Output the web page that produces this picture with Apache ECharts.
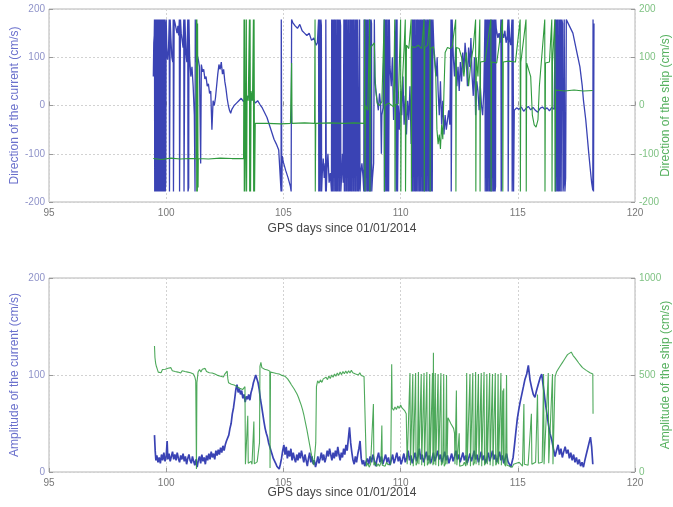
<!DOCTYPE html>
<html>
<head>
<meta charset="utf-8">
<script src="https://cdn.jsdelivr.net/npm/echarts@6/dist/echarts.min.js"></script>
<style>html,body{margin:0;padding:0;background:#fff}#c{width:673px;height:507px}</style>
</head>
<body>
<div id="c"></div>
<script>
// ---------- DATA ----------
const xTicks = [95, 100, 105, 110, 115, 120];
const xName = 'GPS days since 01/01/2014';
const topLeftName = 'Direction of the current (cm/s)';
const topRightName = 'Direction of the ship (cm/s)';
const botLeftName = 'Amplitude of the current (cm/s)';
const botRightName = 'Amplitude of the ship (cm/s)';

// [day, direction] of the current (wraps at +/-180)
const currentDirection = [
[99.45,60],[99.47,130],[99.49,145],[99.50,178],[99.51,-178],[99.52,-150],[99.53,178],[99.54,120],[99.55,178],[99.56,-178],[99.57,-175],[99.58,178],[99.59,160],[99.60,178],[99.61,-178],[99.62,-165],[99.63,178],[99.64,170],[99.65,178],[99.66,-178],[99.67,-172],[99.68,178],[99.69,150],[99.70,178],[99.71,-178],[99.72,-178],[99.73,178],[99.74,175],[99.75,178],[99.76,-178],[99.77,-168],[99.78,178],[99.80,176],[99.81,-178],[99.82,-170],[99.83,178],[99.85,172],[99.86,-178],[99.87,-176],[99.88,178],[99.90,165],[99.91,-178],[99.92,-174],[99.93,178],[99.95,170],[99.96,-178],[99.98,-160],
[100.00,178],[100.03,110],[100.06,95],[100.10,120],[100.13,178],[100.14,-178],[100.16,-178],[100.17,178],[100.20,140],[100.24,100],[100.28,90],[100.30,178],[100.31,-178],[100.33,-178],[100.34,178],[100.38,170],[100.42,160],[100.46,150],[100.50,165],[100.53,145],[100.56,178],[100.57,-178],[100.60,-176],[100.61,178],[100.64,150],[100.68,135],[100.72,120],[100.75,178],[100.76,-178],[100.79,-175],[100.80,178],[100.84,110],[100.88,90],[100.92,178],[100.93,-178],[100.96,-170],[100.97,178],[101.00,100],[101.05,60],[101.10,80],[101.15,40],[101.20,-20],[101.23,-178],[101.24,178],[101.27,90],[101.32,105],[101.37,95],[101.42,80],[101.47,-120],[101.50,85],[101.55,70],[101.60,75],[101.65,55],[101.70,60],[101.75,40],[101.80,45],[101.85,25],[101.90,30],[101.95,-50],[102.00,10],[102.05,0],[102.10,15],[102.15,40],[102.20,65],[102.25,85],[102.30,75],[102.35,90],[102.40,65],[102.45,75],[102.50,50],[102.55,35],[102.60,15],[102.65,0],[102.70,-10],[102.75,-16],[102.80,-8],[102.85,-5],[102.90,0],[103.00,5],[103.10,10],[103.20,15],[103.30,8],[103.40,15],[103.50,20],[103.60,10],[103.70,15],[103.80,5],[103.90,10],[104.00,2],[104.10,-5],[104.20,-15],[104.30,-25],[104.40,-40],[104.50,-55],[104.60,-70],[104.70,-80],[104.80,-92],[104.90,-178],[104.91,178],[104.93,-178],[104.95,-105],[105.00,-118],[105.10,-135],[105.20,-150],[105.30,-168],[105.33,-178],[105.35,178],[105.40,172],[105.50,165],[105.60,160],[105.70,168],[105.80,155],[105.90,150],[106.00,145],[106.10,150],[106.20,135],[106.30,140],[106.40,125],[106.45,130],
[106.50,178],[106.51,-178],[106.53,-170],[106.54,178],[106.56,160],[106.57,-178],[106.59,-178],[106.60,178],[106.62,165],[106.63,-178],[106.66,-140],[106.70,-110],[106.74,-150],[106.78,-120],[106.80,-178],[106.81,178],[106.83,-178],[106.86,-130],[106.90,-100],[106.95,-160],[107.00,-140],[107.05,-178],[107.06,178],[107.08,170],[107.09,-178],[107.11,-175],[107.12,178],[107.14,172],[107.15,-178],[107.17,-176],[107.18,178],[107.20,170],[107.21,-178],[107.23,-172],[107.24,178],[107.26,176],[107.27,-178],[107.29,-170],[107.30,178],[107.32,168],[107.33,-178],[107.35,-175],[107.36,178],[107.38,172],[107.39,-178],[107.41,-178],[107.42,178],[107.44,165],[107.45,-178],[107.48,-150],[107.52,-100],[107.55,-160],[107.58,178],[107.60,-178],[107.62,-174],[107.63,178],[107.65,172],[107.66,-178],[107.68,-170],[107.69,178],[107.71,175],[107.72,-178],[107.74,-176],[107.75,178],[107.77,168],[107.78,-178],[107.80,-172],[107.81,178],[107.83,174],[107.84,-178],[107.86,-168],[107.87,178],[107.89,170],[107.90,-178],[107.92,-176],[107.93,178],[107.95,172],[107.96,-178],[107.98,-170],[107.99,178],[108.01,176],[108.02,-178],[108.04,-174],[108.05,178],[108.07,170],[108.08,-178],[108.10,-176],[108.11,178],[108.13,166],[108.14,-178],[108.16,-172],[108.17,178],[108.19,174],[108.20,-178],[108.22,-170],[108.25,178],[108.27,-178],[108.30,-140],[108.35,-120],[108.40,-150],[108.43,-178],[108.44,178],[108.46,172],[108.47,-178],[108.49,-174],[108.50,178],[108.52,170],[108.53,-178],[108.55,-176],[108.56,178],[108.58,168],[108.59,-178],[108.61,-172],[108.62,178],[108.64,174],[108.65,-178],[108.67,-170],[108.68,178],[108.70,172],[108.71,-178],[108.73,-176],[108.74,178],[108.76,170],[108.77,-178],[108.80,-150],[108.85,-120],[108.88,178],[108.90,60],[108.95,30],[109.00,10],[109.05,-10],[109.10,25],[109.15,0],[109.18,-100],[109.20,-20],[109.25,-5],[109.30,178],[109.31,-178],[109.33,-176],[109.34,178],[109.36,170],[109.37,-178],[109.39,-172],[109.40,178],[109.42,174],[109.43,-178],[109.45,-170],[109.46,178],[109.48,172],[109.49,-178],[109.51,-176],[109.52,178],[109.55,80],[109.60,40],[109.65,100],[109.70,-30],[109.75,50],[109.80,178],[109.81,-178],[109.83,-150],[109.85,178],[109.87,-178],[109.90,0],[109.95,-50],[110.00,30],[110.05,-20],[110.10,60],[110.15,-40],[110.20,20],[110.25,-60],[110.30,10],[110.35,-30],[110.40,40],[110.45,-80],
[110.50,178],[110.51,-178],[110.53,-176],[110.54,178],[110.56,170],[110.57,-178],[110.59,-172],[110.60,178],[110.62,174],[110.63,-178],[110.65,-170],[110.66,178],[110.68,172],[110.69,-178],[110.71,-176],[110.72,178],[110.74,170],[110.75,-178],[110.77,-174],[110.78,178],[110.80,165],[110.81,-178],[110.83,-170],[110.84,178],[110.86,160],[110.87,-178],[110.89,-176],[110.90,178],[110.92,168],[110.93,-178],[110.95,-172],[110.96,178],[110.98,155],[110.99,-178],[111.01,-174],[111.02,178],[111.04,160],[111.05,-178],[111.07,-170],[111.08,178],[111.10,150],[111.11,-178],[111.13,-176],[111.14,178],[111.16,165],[111.17,-178],[111.19,-172],[111.20,178],[111.22,158],[111.23,-178],[111.25,-174],[111.26,178],[111.28,162],[111.29,-178],[111.31,-170],[111.32,178],[111.34,150],[111.35,-178],[111.37,-176],[111.38,178],
[111.42,120],[111.47,90],[111.52,60],[111.56,100],[111.60,30],[111.65,-20],[111.70,50],[111.75,-40],[111.80,10],[111.85,-60],[111.90,-20],[111.95,-50],[112.00,-30],[112.05,-10],[112.10,-40],[112.15,178],[112.16,-178],[112.18,-178],[112.20,178],[112.25,100],[112.30,60],[112.35,120],[112.40,40],[112.45,80],[112.50,30],[112.55,90],[112.60,50],[112.65,110],[112.70,70],[112.75,130],[112.80,100],[112.85,40],[112.90,120],[112.95,80],[113.00,140],[113.05,60],[113.10,20],[113.15,100],[113.20,-20],[113.25,50],[113.30,30],[113.35,-10],[113.40,40],[113.45,0],[113.50,-20],[113.55,30],
[113.60,178],[113.61,-178],[113.63,-174],[113.64,178],[113.66,170],[113.67,-178],[113.69,-172],[113.70,178],[113.72,168],[113.73,-178],[113.75,-176],[113.76,178],[113.78,172],[113.79,-178],[113.81,-170],[113.82,178],[113.84,166],[113.85,-178],[113.87,-174],[113.88,178],[113.90,170],[113.91,-178],[113.93,-176],[113.94,178],[113.96,164],[113.97,-178],[113.99,-172],[114.00,178],[114.02,170],[114.03,-178],[114.05,-168],[114.06,178],[114.08,160],
[114.12,160],[114.15,140],[114.20,150],[114.25,130],[114.28,178],[114.29,-178],[114.31,-170],[114.32,178],[114.35,150],[114.40,140],[114.45,155],[114.50,130],[114.55,145],[114.58,178],[114.59,-178],[114.61,-175],[114.62,178],[114.65,140],[114.70,125],[114.75,178],[114.76,-178],[114.78,-178],[114.80,178],[114.82,-178],
[114.85,-10],[114.95,-5],[115.05,-8],[115.15,-3],[115.25,-12],[115.35,-6],[115.45,-2],[115.55,-9],[115.65,-4],[115.75,-10],[115.85,-14],[115.95,-6],[116.05,-3],[116.15,-8],[116.25,-5],[116.35,-11],[116.45,-4],[116.55,-8],
[116.60,178],[116.61,-178],[116.63,-176],[116.64,178],[116.66,170],[116.67,-178],[116.69,-172],[116.70,178],[116.72,174],[116.73,-178],[116.75,-170],[116.76,178],[116.78,172],[116.79,-178],[116.81,-176],[116.82,178],[116.84,168],[116.85,-178],[116.87,-174],[116.88,178],[116.91,170],[116.93,-178],[116.96,-160],[116.98,178],[117.01,-178],[117.04,-150],[117.07,178],
[117.10,176],[117.20,165],[117.35,150],[117.50,115],[117.65,80],[117.75,40],[117.80,11],[117.90,-30],[117.95,-57],[118.02,-95],[118.08,-126],[118.15,-160],[118.20,-176],[118.21,178],[118.23,-178],[118.25,170]
];

// [day, direction] of the ship
const shipDirection = [
[99.45,-110],[99.80,-112],[100.20,-109],[100.60,-111],[101.00,-110],[101.28,-110],[101.29,178],[101.30,-178],[101.31,178],[101.33,-178],[101.34,170],[101.36,-170],[101.37,-110],[101.80,-111],[102.30,-109],[102.80,-110],[103.30,-110],[103.32,178],[103.33,-178],[103.35,178],[103.36,-178],[103.38,-110],[103.42,178],[103.43,-178],[103.45,20],[103.50,10],[103.55,178],[103.56,-178],[103.58,178],[103.60,-178],[103.62,30],[103.68,10],[103.72,178],[103.73,-178],[103.75,178],[103.77,-178],[103.80,-37],[104.30,-37],[104.90,-38],[105.30,-37],[105.35,88],[105.37,-37],[105.90,-36],[106.33,-37],[106.35,178],[106.36,-178],[106.38,-37],[107.00,-36],[107.60,-37],[108.00,-36],[108.45,-37],[108.47,178],[108.48,-178],[108.50,0],[108.60,-10],[108.68,178],[108.69,-178],[108.72,120],[108.80,125],[108.88,130],[108.92,40],[109.00,5],[109.10,0],[109.20,8],[109.30,178],[109.31,-178],[109.33,0],[109.50,5],[109.70,-3],[109.75,178],[109.76,-178],[109.78,2],[109.90,3],[110.00,178],[110.01,-178],[110.03,5],[110.15,120],[110.20,178],[110.21,-178],[110.25,125],[110.35,118],[110.45,178],[110.46,-178],[110.48,122],[110.60,120],[110.75,125],[110.90,118],[111.00,178],[111.01,-178],[111.03,120],[111.15,125],[111.25,178],[111.26,-178],[111.28,118],[111.40,122],[111.50,60],[111.55,-50],[111.60,-80],[111.65,-60],[111.70,-90],[111.75,-40],[111.80,-70],[111.85,30],[111.90,110],[112.00,120],[112.10,118],[112.20,122],[112.35,178],[112.36,-178],[112.38,120],[112.50,118],[112.60,100],[112.70,60],[112.80,110],[112.90,40],[113.00,90],[113.10,120],[113.20,178],[113.21,-178],[113.23,100],[113.30,60],[113.38,178],[113.39,-178],[113.41,90],[113.60,92],[113.85,178],[113.86,-178],[113.88,90],[114.10,88],[114.35,178],[114.36,-178],[114.38,90],[114.60,92],[114.90,90],[115.10,178],[115.11,-178],[115.13,90],[115.35,178],[115.36,-178],[115.38,88],[115.55,60],[115.62,-20],[115.70,-40],[115.78,-45],[115.86,-30],[115.92,40],[116.00,88],[116.15,178],[116.16,-178],[116.18,88],[116.35,90],[116.45,178],[116.46,-178],[116.48,90],[116.58,178],[116.59,-178],[116.61,32],[117.00,30],[117.40,32],[117.80,30],[118.20,31]
];

// [day, amplitude] of the current
const currentAmplitude = [
[99.50,38],[99.53,22],[99.56,12],[99.60,17],[99.65,10],[99.70,15],[99.75,9],[99.80,18],[99.85,12],[99.90,20],[99.95,11],[100.00,16],[100.04,32],[100.07,13],[100.12,19],[100.17,11],[100.22,16],[100.27,21],[100.32,13],[100.37,18],[100.42,12],[100.47,20],[100.52,14],[100.57,10],[100.62,17],[100.67,13],[100.72,19],[100.77,11],[100.82,16],[100.87,8],[100.92,14],[100.97,18],[101.02,12],[101.07,9],[101.12,16],[101.17,11],[101.22,7],[101.27,13],[101.32,5],[101.37,12],[101.42,16],[101.47,9],[101.52,18],[101.57,11],[101.62,15],[101.67,8],[101.72,17],[101.77,12],[101.82,19],[101.87,13],[101.92,21],[101.97,15],[102.02,19],[102.07,13],[102.12,22],[102.17,17],[102.22,23],[102.27,18],[102.32,25],[102.37,20],[102.42,27],[102.47,22],[102.52,28],[102.57,32],[102.62,30],[102.67,38],[102.72,45],[102.77,50],[102.82,60],[102.87,66],[102.92,75],[102.97,85],[103.02,90],[103.07,82],[103.12,86],[103.17,80],[103.22,84],[103.27,76],[103.32,80],[103.37,72],[103.42,78],[103.47,75],[103.52,80],[103.57,74],[103.62,82],[103.67,86],[103.72,92],[103.77,96],[103.82,100],[103.87,102],[103.92,92],[103.97,85],[104.02,75],[104.07,68],[104.12,60],[104.17,52],[104.22,45],[104.27,40],[104.32,36],[104.37,30],[104.42,26],[104.47,22],[104.52,18],[104.57,14],[104.62,12],[104.67,9],[104.72,6],[104.77,4],[104.82,3],[104.87,8],[104.92,14],[104.97,22],[105.02,28],[105.07,18],[105.12,26],[105.17,14],[105.22,22],[105.27,16],[105.32,24],[105.37,12],[105.42,20],[105.47,14],[105.52,10],[105.57,18],[105.62,12],[105.67,20],[105.72,14],[105.77,22],[105.82,16],[105.87,10],[105.92,18],[105.97,12],[106.02,6],[106.07,14],[106.12,20],[106.17,10],[106.22,16],[106.27,8],[106.32,12],[106.37,5],[106.42,10],[106.47,16],[106.52,9],[106.57,14],[106.62,20],[106.67,12],[106.72,18],[106.77,10],[106.82,15],[106.87,22],[106.92,16],[106.97,24],[107.02,18],[107.07,12],[107.12,20],[107.17,14],[107.22,22],[107.27,16],[107.32,26],[107.37,18],[107.42,12],[107.47,20],[107.52,15],[107.57,24],[107.62,18],[107.67,28],[107.72,22],[107.77,34],[107.82,46],[107.87,30],[107.92,20],[107.97,12],[108.02,8],[108.07,16],[108.12,10],[108.17,18],[108.22,24],[108.27,32],[108.32,14],[108.37,8],[108.42,12],[108.47,6],[108.52,10],
[108.58,14],[108.64,8],[108.70,16],[108.76,10],[108.82,18],[108.88,12],[108.94,6],[109.00,14],[109.06,20],[109.12,10],[109.18,16],[109.24,8],[109.30,13],[109.36,18],[109.42,10],[109.48,15],[109.54,7],[109.60,12],[109.66,18],[109.72,9],[109.78,14],[109.84,20],[109.90,11],[109.96,16],[110.02,8],[110.08,13],[110.14,19],[110.20,10],[110.26,15],[110.32,22],[110.38,12],[110.44,17],[110.50,9],[110.56,14],[110.62,20],[110.68,11],[110.74,16],[110.80,24],[110.86,13],[110.92,18],[110.98,10],[111.04,15],[111.10,21],[111.16,12],[111.22,17],[111.28,9],[111.34,14],[111.40,20],[111.46,11],[111.52,16],[111.58,22],[111.64,13],[111.70,18],[111.76,10],[111.82,15],[111.88,21],[111.94,12],[112.00,17],[112.06,9],[112.12,14],[112.18,19],[112.24,11],[112.30,16],[112.36,22],[112.42,13],[112.48,18],[112.54,10],[112.60,15],[112.66,20],[112.72,12],[112.78,17],[112.84,9],[112.90,14],[112.96,19],[113.02,11],[113.08,16],[113.14,22],[113.20,13],[113.26,18],[113.32,10],[113.38,15],[113.44,21],[113.50,12],[113.56,17],[113.62,9],[113.68,14],[113.74,20],[113.80,11],[113.86,16],[113.92,22],[113.98,13],[114.04,18],[114.10,10],[114.16,15],[114.22,21],[114.28,12],[114.34,17],[114.40,9],[114.46,14],[114.52,19],[114.58,11],[114.64,8],[114.70,5],[114.74,4],
[114.80,15],[114.86,28],[114.92,42],[114.98,55],[115.04,64],[115.10,72],[115.17,80],[115.24,88],[115.30,95],[115.38,101],[115.45,110],[115.52,95],[115.59,87],[115.66,80],[115.73,77],[115.80,84],[115.88,91],[115.95,97],[116.02,101],[116.09,88],[116.16,74],[116.23,62],[116.30,50],[116.37,40],[116.45,33],[116.52,24],[116.59,16],
[116.65,22],[116.72,28],[116.78,18],[116.84,24],[116.90,15],[116.96,21],[117.02,26],[117.08,19],[117.14,23],[117.20,14],[117.26,20],[117.32,12],[117.38,18],[117.44,10],[117.50,15],[117.56,8],[117.62,13],[117.68,6],[117.74,10],[117.80,5],[117.86,12],[117.92,18],[117.98,24],[118.04,30],[118.10,36],[118.15,26],[118.20,8]
];

// [day, amplitude] of the ship
const shipAmplitude = [
[99.50,650],[99.52,590],[99.55,560],[99.58,545],[99.62,530],[99.66,515],[99.72,522],[99.78,512],[99.84,528],[99.90,518],[99.96,530],[100.02,520],[100.08,535],[100.14,525],[100.20,538],[100.26,522],[100.32,532],[100.38,518],[100.44,528],[100.50,515],[100.56,525],[100.62,510],[100.68,522],[100.74,530],[100.80,518],[100.86,528],[100.92,515],[100.98,524],[101.04,512],[101.10,520],[101.16,505],[101.22,490],[101.26,470],[101.29,15],[101.31,460],[101.36,515],[101.42,528],[101.48,516],[101.54,530],[101.60,520],[101.66,534],[101.72,518],[101.78,526],[101.84,512],[101.90,522],[101.96,510],[102.02,518],[102.08,505],[102.14,512],[102.20,498],[102.26,506],[102.32,494],[102.38,500],[102.44,490],[102.50,505],[102.55,515],[102.60,520],[102.63,480],[102.66,460],[102.72,468],[102.78,452],[102.84,462],[102.90,448],[102.96,456],[103.02,440],[103.08,448],[103.14,432],[103.20,438],[103.26,425],[103.32,432],[103.36,440],[103.38,40],[103.42,30],[103.46,50],[103.48,290],[103.50,45],[103.56,35],[103.62,55],[103.66,40],[103.72,48],[103.74,260],[103.76,42],[103.82,38],[103.88,52],[103.94,45],[103.98,150],[104.00,545],[104.04,565],[104.08,538],[104.14,548],[104.20,530],[104.26,540],[104.32,526],[104.38,534],[104.42,520],[104.43,20],[104.45,515],[104.52,525],[104.58,512],[104.64,520],[104.70,508],[104.76,516],[104.82,505],[104.88,512],[104.94,498],[105.00,506],[105.06,494],[105.12,500],[105.18,480],[105.22,470],[105.28,462],[105.34,450],[105.40,440],[105.46,428],[105.52,415],[105.58,402],[105.64,385],[105.70,365],[105.76,345],[105.82,320],[105.88,290],[105.94,255],[106.00,220],[106.06,180],[106.12,140],[106.18,100],[106.24,65],[106.30,35],[106.35,25],[106.38,150],[106.41,440],[106.46,470],[106.52,458],[106.58,475],[106.64,462],[106.70,480],[106.76,470],[106.82,488],[106.88,476],[106.94,495],[107.00,482],[107.06,500],[107.12,488],[107.18,505],[107.24,494],[107.30,510],[107.36,498],[107.42,515],[107.48,502],[107.54,518],[107.60,506],[107.66,520],[107.72,508],[107.78,522],[107.84,510],[107.90,524],[107.96,512],[108.02,518],[108.08,505],[108.14,515],[108.20,500],[108.26,512],[108.32,498],[108.38,508],[108.44,492],[108.50,485],[108.54,30],[108.60,45],[108.66,25],[108.72,40],[108.78,30],[108.84,350],[108.86,35],[108.92,50],[108.98,28],[109.04,42],[109.10,30],[109.16,48],[109.20,240],[109.22,35],[109.28,45],[109.34,30],[109.40,50],[109.46,38],[109.52,45],[109.58,40],[109.62,555],[109.64,330],[109.70,318],[109.76,335],[109.82,322],[109.88,340],[109.94,328],[110.00,345],[110.06,330],[110.12,338],[110.18,315],[110.24,300],[110.28,40],
[110.34,30],[110.40,510],[110.42,35],[110.48,45],[110.52,505],[110.54,30],[110.60,40],[110.64,510],[110.66,35],[110.72,50],[110.76,515],[110.78,40],[110.84,30],[110.88,505],[110.90,35],[110.96,45],[111.00,510],[111.02,30],[111.08,40],[111.12,515],[111.14,35],[111.20,50],[111.24,505],[111.26,40],[111.32,30],[111.36,510],[111.38,35],[111.40,615],[111.42,40],[111.48,510],[111.50,35],[111.56,45],[111.60,505],[111.62,30],[111.68,40],[111.72,510],[111.74,35],[111.80,50],[111.84,505],[111.86,30],[111.92,45],[111.96,500],[111.98,40],[112.02,280],[112.08,265],[112.14,250],[112.20,240],[112.26,225],[112.30,200],[112.32,40],[112.36,30],[112.38,420],[112.40,35],[112.46,45],[112.50,200],[112.52,30],[112.60,40],[112.66,35],[112.72,50],[112.78,30],
[112.82,510],[112.84,35],[112.90,45],[112.96,505],[112.98,30],[113.04,40],[113.08,510],[113.10,35],[113.16,50],[113.20,515],[113.22,40],[113.28,30],[113.32,505],[113.34,35],[113.40,45],[113.44,510],[113.46,30],[113.52,40],[113.56,515],[113.58,35],[113.64,50],[113.68,505],[113.70,40],[113.76,30],[113.80,510],[113.82,35],[113.88,45],[113.92,505],[113.94,30],[114.00,40],[114.04,510],[114.06,35],[114.12,50],[114.16,505],[114.18,40],[114.24,30],[114.28,510],[114.30,35],[114.36,420],[114.38,60],[114.40,430],[114.42,45],[114.48,30],[114.52,500],[114.54,35],[114.60,45],[114.66,30],[114.70,20],[114.76,25],[114.82,40],[114.88,30],[114.94,45],[115.00,35],[115.06,50],[115.12,40],[115.20,30],[115.26,350],[115.28,40],[115.36,50],[115.44,35],[115.52,45],[115.58,300],[115.60,40],[115.68,30],[115.76,50],[115.84,400],[115.86,220],[115.88,45],[115.96,35],[116.04,50],[116.10,505],[116.12,40],[116.20,30],[116.30,510],[116.32,45],[116.40,35],[116.48,505],[116.50,40],[116.56,50],
[116.59,490],[116.65,515],[116.72,530],[116.80,545],[116.88,560],[116.96,575],[117.04,590],[117.12,605],[117.20,615],[117.28,618],[117.36,600],[117.44,588],[117.52,575],[117.60,562],[117.68,550],[117.76,538],[117.84,530],[117.92,524],[118.00,516],[118.08,512],[118.15,510],[118.20,505],[118.21,300]
];

// ---------- CHART ----------
const FONT = 'Liberation Sans';
const BLUE = '#3a43b4';
const GREEN = '#2f9a3e';
const gridLine = {show: true, lineStyle: {color: '#d2d2d2', type: [2, 2], width: 1}};

function xAx(grid, gap, margin) {
  return {
    gridIndex: grid, type: 'value', min: xTicks[0], max: xTicks[xTicks.length - 1], interval: 5,
    name: xName, nameLocation: 'middle', nameGap: gap, nameMoveOverlap: false,
    nameTextStyle: {fontSize: 12, color: '#444', fontFamily: FONT},
    axisLine: {show: false},
    axisTick: {show: true, inside: true, length: 4, lineStyle: {color: '#999'}},
    axisLabel: {fontSize: 10, color: '#777', margin: margin, fontFamily: FONT},
    splitLine: gridLine
  };
}
function yAx(grid, pos, min, max, interval, name, nameColor, labelColor, split, gap) {
  return {
    gridIndex: grid, type: 'value', position: pos, min: min, max: max, interval: interval,
    name: name, nameLocation: 'middle', nameGap: gap, nameRotate: 90, nameMoveOverlap: false,
    nameTextStyle: {fontSize: 12, color: nameColor, fontFamily: FONT},
    axisLine: {show: false},
    axisTick: {show: true, inside: true, length: 4, lineStyle: {color: '#999'}},
    axisLabel: {fontSize: 10, color: labelColor, margin: 4, fontFamily: FONT, formatter: function (v) { return String(v); }},
    splitLine: split ? gridLine : {show: false}
  };
}

const chart = echarts.init(document.getElementById('c'), null, {renderer: 'canvas'});
chart.setOption({
  animation: false,
  backgroundColor: '#fff',
  grid: [
    {left: 49, right: 38, top: 9, height: 193, show: true, borderColor: '#b5b5b5', borderWidth: 1, containLabel: false, outerBoundsMode: 'none'},
    {left: 49, right: 38, top: 278, height: 194, show: true, borderColor: '#b5b5b5', borderWidth: 1, containLabel: false, outerBoundsMode: 'none'}
  ],
  xAxis: [xAx(0, 21, 6), xAx(1, 15, 6)],
  yAxis: [
    yAx(0, 'left', -200, 200, 100, topLeftName, '#6a70cc', '#8f93c9', true, 28),
    yAx(0, 'right', -200, 200, 100, topRightName, '#55b05e', '#7fc283', false, 25),
    yAx(1, 'left', 0, 200, 100, botLeftName, '#6a70cc', '#8f93c9', true, 28),
    yAx(1, 'right', 0, 1000, 500, botRightName, '#55b05e', '#7fc283', false, 25)
  ],
  series: [
    {type: 'line', xAxisIndex: 0, yAxisIndex: 0, data: currentDirection, showSymbol: false, symbol: 'none',
     lineStyle: {width: 1.3, color: BLUE}, z: 2},
    {type: 'line', xAxisIndex: 0, yAxisIndex: 1, data: shipDirection, showSymbol: false, symbol: 'none',
     lineStyle: {width: 1.1, color: GREEN}, z: 3},
    {type: 'line', xAxisIndex: 1, yAxisIndex: 2, data: currentAmplitude, showSymbol: false, symbol: 'none',
     lineStyle: {width: 1.7, color: BLUE}, z: 2},
    {type: 'line', xAxisIndex: 1, yAxisIndex: 3, data: shipAmplitude, showSymbol: false, symbol: 'none',
     lineStyle: {width: 1.1, color: GREEN, opacity: 0.85}, z: 3}
  ]
});
</script>
</body>
</html>
